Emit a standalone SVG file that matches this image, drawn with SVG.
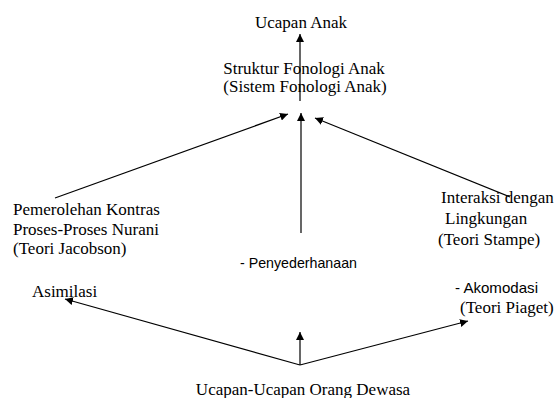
<svg xmlns="http://www.w3.org/2000/svg" width="558" height="398" viewBox="0 0 558 398">
<defs>
<marker id="ah" viewBox="0 0 10 10" refX="10" refY="5" markerWidth="8" markerHeight="8" markerUnits="userSpaceOnUse" orient="auto">
<path d="M0,0 L10,5 L0,10 z" fill="#000"/>
</marker>
<style>
.s{font-family:"Liberation Serif","Times New Roman",serif;font-size:17px;fill:#000}
.a{font-family:"Liberation Sans",Arial,sans-serif;font-size:14.5px;fill:#000}
.c{stroke:#000;stroke-width:1.2;fill:none;marker-end:url(#ah)}
</style>
</defs>
<rect width="558" height="398" fill="#fff"/>
<g id="connectors">
<line class="c" x1="300" y1="101" x2="300" y2="34"/>
<line class="c" x1="55" y1="198" x2="288" y2="114"/>
<line class="c" x1="301" y1="233" x2="301" y2="113"/>
<line class="c" x1="510" y1="197" x2="315" y2="118"/>
<line class="c" x1="300" y1="365" x2="65" y2="299"/>
<line class="c" x1="300" y1="365" x2="300" y2="332"/>
<line class="c" x1="300" y1="365" x2="468" y2="321"/>
</g>
<g id="ucapan-anak"><text class="s" x="301" y="28" text-anchor="middle">Ucapan Anak</text></g>
<g id="struktur"><text class="s" x="304" y="74" text-anchor="middle">Struktur Fonologi Anak</text><text class="s" x="305" y="92" text-anchor="middle">(Sistem Fonologi Anak)</text></g>
<g id="jacobson"><text class="s" x="13" y="215">Pemerolehan Kontras</text><text class="s" x="13" y="235">Proses-Proses Nurani</text><text class="s" x="13" y="254">(Teori Jacobson)</text></g>
<g id="stampe"><text class="s" x="441" y="203">Interaksi dengan</text><text class="s" x="445" y="224">Lingkungan</text><text class="s" x="438" y="245">(Teori Stampe)</text></g>
<g id="penyederhanaan"><text class="a" x="240" y="268" textLength="117" lengthAdjust="spacingAndGlyphs">- Penyederhanaan</text></g>
<g id="asimilasi"><text class="s" x="32" y="297">Asimilasi</text></g>
<g id="piaget"><text class="a" x="455" y="293" textLength="83" lengthAdjust="spacingAndGlyphs">- Akomodasi</text><text class="s" x="460" y="313">(Teori Piaget)</text></g>
<g id="dewasa"><text class="s" x="303" y="395" text-anchor="middle">Ucapan-Ucapan Orang Dewasa</text></g>
</svg>
